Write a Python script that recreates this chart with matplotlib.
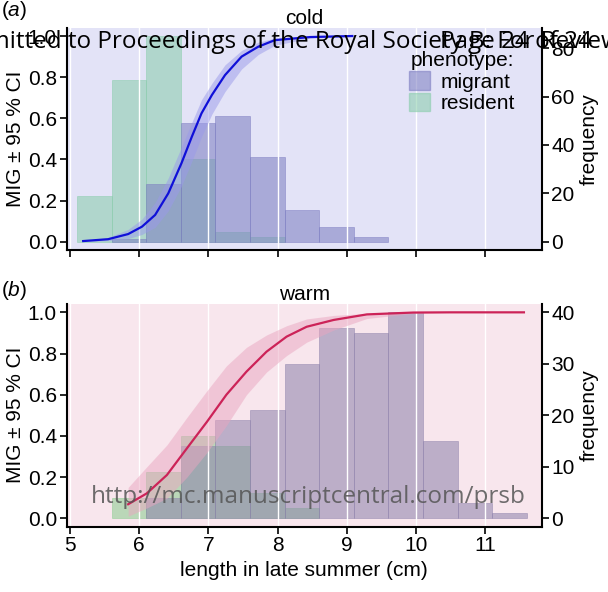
import numpy as np
import matplotlib
matplotlib.use("Agg")
import matplotlib.pyplot as plt
from matplotlib.patches import Patch

plt.rcParams['font.family'] = ['Liberation Sans', 'DejaVu Sans']
plt.rcParams['mathtext.fontset'] = 'custom'
plt.rcParams['mathtext.it'] = 'Liberation Sans:italic'
plt.rcParams['mathtext.rm'] = 'Liberation Sans'

# histogram bins (left edges, cm), width 0.5
bin_left = [5.1, 5.6, 6.1, 6.6, 7.1, 7.6, 8.1, 8.6, 9.1, 9.6, 10.1, 10.6, 11.1]
bin_width = 0.5

# frequencies
cold_migrant = [0, 1, 24, 49, 52, 35, 13, 6, 2, 0, 0, 0, 0]
cold_resident = [19, 67, 85, 34, 4, 2, 0, 0, 0, 0, 0, 0, 0]
warm_migrant = [0, 0, 4, 14, 19, 21, 30, 37, 36, 40, 15, 3, 1]
warm_resident = [0, 4, 9, 16, 14, 5, 2, 0, 0, 0, 0, 0, 0]

# fitted MIG curves with 95% CI
cold_x = [5.19, 5.55, 5.84, 6.04, 6.23, 6.42, 6.61, 6.76, 6.90, 7.05, 7.24, 7.48, 7.72, 7.96, 8.47, 9.08]
cold_fit = [0.003, 0.012, 0.037, 0.073, 0.13, 0.235, 0.381, 0.51, 0.624, 0.713, 0.81, 0.90, 0.948, 0.98, 0.995, 1.0]
cold_hi = [0.005, 0.02, 0.06, 0.11, 0.19, 0.31, 0.46, 0.58, 0.69, 0.77, 0.86, 0.93, 0.97, 0.99, 1.0, 1.0]
cold_lo = [0.0, 0.005, 0.015, 0.035, 0.07, 0.15, 0.27, 0.39, 0.51, 0.62, 0.73, 0.84, 0.91, 0.955, 0.99, 0.998]

warm_x = [5.84, 6.11, 6.40, 6.69, 6.98, 7.26, 7.55, 7.84, 8.13, 8.42, 8.81, 9.29, 9.96, 10.5, 11.0, 11.56]
warm_fit = [0.068, 0.121, 0.21, 0.34, 0.469, 0.60, 0.712, 0.809, 0.882, 0.93, 0.963, 0.99, 0.999, 1.0, 1.0, 1.0]
warm_hi = [0.15, 0.25, 0.356, 0.49, 0.62, 0.74, 0.83, 0.89, 0.935, 0.968, 0.985, 0.995, 1.0, 1.0, 1.0, 1.0]
warm_lo = [0.01, 0.05, 0.097, 0.2, 0.32, 0.45, 0.6, 0.71, 0.79, 0.855, 0.914, 0.97, 0.995, 1.0, 1.0, 1.0]

panels = [
    dict(tag='a', title='cold', bg='#e3e3f7', mig=cold_migrant, res=cold_resident,
         x=cold_x, fit=cold_fit, lo=cold_lo, hi=cold_hi,
         line='#1010d8', band='#9a9aea', mig_c='#7a7bc0', res_c='#86cca9',
         rticks=[0, 20, 40, 60, 80]),
    dict(tag='b', title='warm', bg='#f8e6ed', mig=warm_migrant, res=warm_resident,
         x=warm_x, fit=warm_fit, lo=warm_lo, hi=warm_hi,
         line='#cc2358', band='#eaa6c0', mig_c='#8c80ab', res_c='#88cc8e',
         rticks=[0, 10, 20, 30, 40]),
]

FS = 15
fig = plt.figure(figsize=(6.08, 5.92), dpi=100)
W, H = 608, 592
boxes = [(66.7, 27.8, 541.5, 249.9), (66.7, 304.1, 541.5, 526.5)]

for p, (x0, y0, x1, y1) in zip(panels, boxes):
    rect = [x0 / W, 1 - y1 / H, (x1 - x0) / W, (y1 - y0) / H]
    ax2 = fig.add_axes(rect)
    ax = fig.add_axes(rect, sharex=ax2)
    ax2.yaxis.tick_right()
    ax2.yaxis.set_label_position('right')
    ax.set_zorder(ax2.get_zorder() + 1)
    ax.patch.set_visible(False)
    ax2.set_facecolor(p['bg'])

    # histograms on the frequency axis (empty bins skipped)
    for counts, col in ((p['res'], p['res_c']), (p['mig'], p['mig_c'])):
        lefts = [b for b, c in zip(bin_left, counts) if c > 0]
        hts = [c for c in counts if c > 0]
        ax2.bar(lefts, hts, width=bin_width, align='edge', color=col,
                alpha=0.55, edgecolor=col, linewidth=0.6)
    top = max(max(p['mig']), max(p['res']))
    ax2.set_ylim(-0.04 * top, 1.04 * top)
    ax2.set_yticks(p['rticks'])
    ax2.set_ylabel('frequency', fontsize=FS, labelpad=4)

    # vertical white grid
    for gx in [5, 6, 7, 8, 9, 10, 11]:
        ax.axvline(gx, color='white', lw=1.0, zorder=0.5)

    ax.fill_between(p['x'], p['lo'], p['hi'], color=p['band'], alpha=0.5, lw=0, zorder=2)
    ax.plot(p['x'], p['fit'], color=p['line'], lw=1.6, zorder=3)

    ax.set_xlim(4.952, 11.814)
    ax.set_ylim(-0.04, 1.04)
    ax.set_yticks([0, 0.2, 0.4, 0.6, 0.8, 1.0])
    ax.set_yticklabels(['0.0', '0.2', '0.4', '0.6', '0.8', '1.0'])
    ax.set_xticks([5, 6, 7, 8, 9, 10, 11])
    ax.set_ylabel('MIG \u00b1 95 % CI', fontsize=FS, labelpad=2)
    ax.set_title(p['title'], fontsize=FS, pad=3)

    for a in (ax, ax2):
        for s in a.spines.values():
            s.set_visible(False)
        a.tick_params(labelsize=FS, width=1.2, length=5, direction='out', pad=2)
    ax.spines['left'].set_visible(True)
    ax.spines['bottom'].set_visible(True)
    ax2.spines['right'].set_visible(True)
    for s in (ax.spines['left'], ax.spines['bottom'], ax2.spines['right']):
        s.set_linewidth(1.5)
    ax2.tick_params(axis='x', bottom=False, labelbottom=False)

    fig.text(1 / W, 1 - (10 if p['tag'] == 'a' else 290) / H,
             '($\\mathit{' + p['tag'] + '}$)', fontsize=FS, va='center')

    if p['tag'] == 'a':
        ax.tick_params(axis='x', labelbottom=False)
        handles = [Patch(color=p['mig_c'], alpha=0.55, label='migrant'),
                   Patch(color=p['res_c'], alpha=0.55, label='resident')]
        ax.legend(handles=handles, title='phenotype:', loc='upper right',
                  bbox_to_anchor=(0.975, 0.96), frameon=False, fontsize=FS,
                  title_fontsize=FS, handlelength=1.0, handleheight=1.0,
                  handletextpad=0.5, borderpad=0.2, labelspacing=0.05)
    else:
        ax.set_xlabel('length in late summer (cm)', fontsize=FS, labelpad=4)

# journal watermarks
fig.text(-56 / W, 1 - 42 / H, 'Submitted to Proceedings of the Royal Society B: For Review Only',
         fontsize=17.5, family='Open Sans', va='center', ha='left', color='black')
fig.text(440 / W, 1 - 42 / H, 'Page 24 of 24', fontsize=17.5, family='Open Sans',
         va='center', ha='left', color='black')
fig.text(308 / W, 1 - 497 / H, 'http://mc.manuscriptcentral.com/prsb', fontsize=17.5,
         family='Open Sans', va='center', ha='center', color='#555555', alpha=0.85)

fig.savefig('out.png', dpi=100)
